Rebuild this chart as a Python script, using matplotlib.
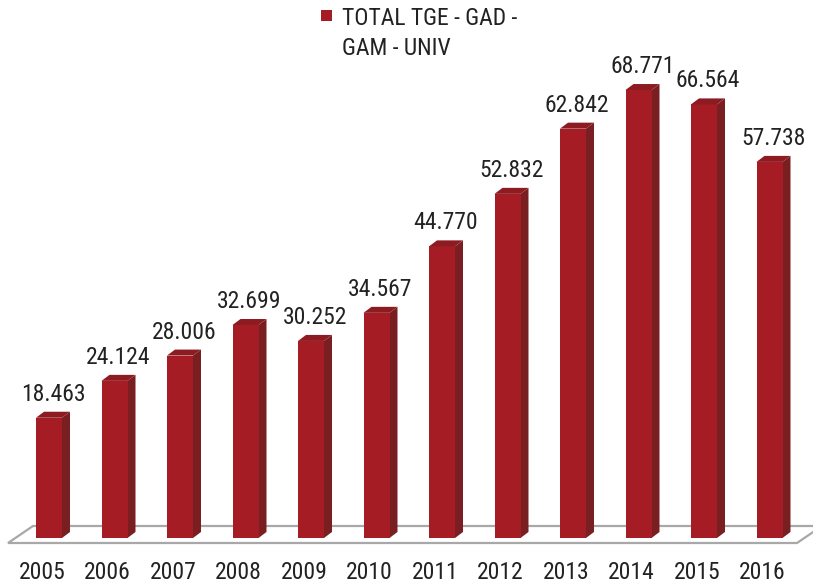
import matplotlib
matplotlib.use("Agg")
import matplotlib.pyplot as plt
from matplotlib.patches import Polygon, Rectangle
from matplotlib import font_manager

years = ["2005", "2006", "2007", "2008", "2009", "2010",
         "2011", "2012", "2013", "2014", "2015", "2016"]
values = [18.463, 24.124, 28.006, 32.699, 30.252, 34.567,
          44.770, 52.832, 62.842, 68.771, 66.564, 57.738]
value_labels = ["18.463", "24.124", "28.006", "32.699", "30.252", "34.567",
                "44.770", "52.832", "62.842", "68.771", "66.564", "57.738"]
legend_lines = ["TOTAL TGE - GAD -", "GAM - UNIV"]

names = {f.name for f in font_manager.fontManager.ttflist}
narrow = [f for f in ["Liberation Sans Narrow", "Roboto Condensed",
                      "Open Sans Condensed", "Noto Sans Condensed"] if f in names]
if narrow:
    FAM = [narrow[0], "DejaVu Sans"]
    FS = 17
else:
    FAM = ["Liberation Sans", "DejaVu Sans"]
    FS = 15.2
plt.rcParams["font.family"] = FAM

W, H = 813, 585
fig = plt.figure(figsize=(W / 100, H / 100), dpi=100)
ax = fig.add_axes([0, 0, 1, 1])

xstep = 65.5        # px per category
yscale = 6.514      # px per unit
x0 = 49             # px of first bar center
base = 47           # px of baseline from bottom
ax.set_xlim(-x0 / xstep, (W - x0) / xstep)
ax.set_ylim(-base / yscale, (H - base) / yscale)
ax.axis("off")

front = "#A51C25"
side = "#7A1F21"
top = "#8C1C22"
grid = "#A8A8A8"
txt = "#222222"

dx = 8 / xstep
dy = 6 / yscale
bw = 26 / xstep

# floor
fl_fx, fl_fy = (8 - x0) / xstep, -5 / yscale
fr_fx = (797 - x0) / xstep
fdx, fdy = 25 / xstep, 17 / yscale
floor = Polygon([(fl_fx, fl_fy), (fr_fx, fl_fy), (fr_fx + fdx, fl_fy + fdy),
                 (fl_fx + fdx, fl_fy + fdy)], closed=True,
                facecolor="white", edgecolor=grid, lw=1.6, zorder=1)
ax.add_patch(floor)

xs = list(range(len(years)))
bars = ax.bar(xs, values, width=bw, color=front, zorder=3, linewidth=0)
for b, v in zip(bars, values):
    l = b.get_x()
    r = l + b.get_width()
    ax.add_patch(Polygon([(r, 0), (r + dx, dy), (r + dx, v + dy), (r, v)],
                         closed=True, facecolor=side, lw=0, zorder=2.9))
    ax.add_patch(Polygon([(l, v), (r, v), (r + dx, v + dy), (l + dx, v + dy)],
                         closed=True, facecolor=top, lw=0, zorder=3.1))

for x, v, lab in zip(xs, values, value_labels):
    ax.text(x + dx / 2, v + dy + 11 / yscale, lab, ha="center", va="baseline",
            fontsize=FS, color=txt)

for x, y in zip(xs, years):
    ax.text(x - 7 / xstep, -base / yscale + 1 / yscale, y, ha="center",
            va="bottom", fontsize=FS, color=txt)

# legend
fig.patches.append(Rectangle((321 / W, 1 - 21 / H), 11 / W, 11 / H,
                             transform=fig.transFigure, facecolor=front,
                             edgecolor="none"))
fig.text(342 / W, 1 - 25 / H, legend_lines[0], ha="left", va="baseline",
         fontsize=FS, color=txt)
fig.text(342 / W, 1 - 55 / H, legend_lines[1], ha="left", va="baseline",
         fontsize=FS, color=txt)

fig.savefig("out.png", dpi=100, facecolor="white")
